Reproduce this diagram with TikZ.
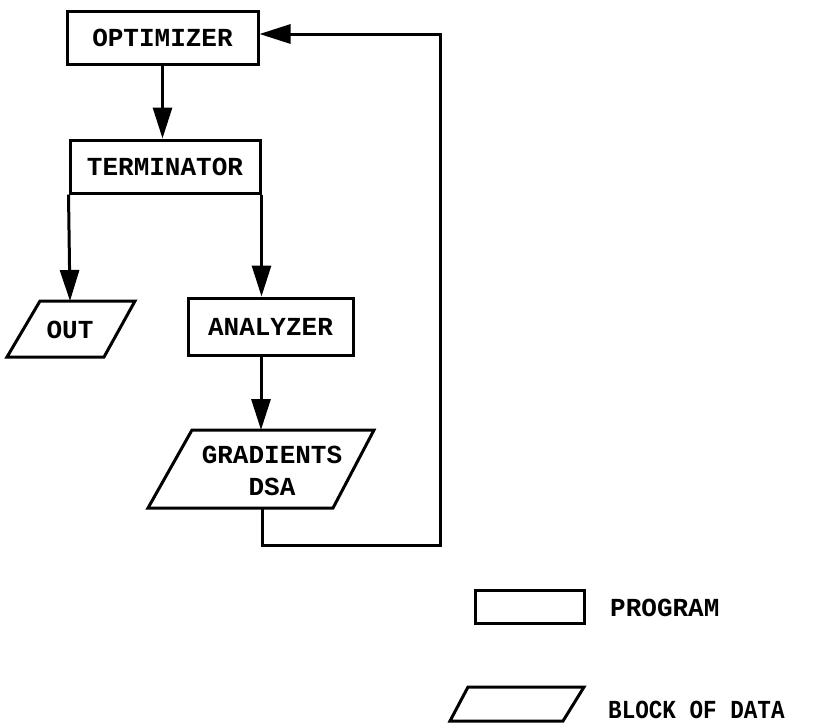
\documentclass[tikz,border=0pt]{standalone}
\usepackage{fontspec}
\newfontfamily\tw{Liberation Mono}
\usetikzlibrary{arrows.meta}
\tikzset{
  lbl/.style={font=\tw\bfseries\fontsize{26}{30}\selectfont, inner sep=0pt},
  prog/.style={draw, line width=3pt, rectangle, lbl},
  shp/.style={draw, line width=3pt, line join=miter},
  conn/.style={line width=3pt, -{Triangle[length=31pt,width=19pt]}},
}
\begin{document}
\begin{tikzpicture}[x=1pt,y=-1pt]
\useasboundingbox (0,0) rectangle (825,724);
% programs
\node[prog, minimum width=191pt, minimum height=53pt] (opt) at (162.5,37.5) {OPTIMIZER};
\node[prog, minimum width=190pt, minimum height=53pt] (term) at (165,166.5) {TERMINATOR};
\node[prog, minimum width=165pt, minimum height=57pt] (ana) at (270.5,326.5) {ANALYZER};
% data blocks
\draw[shp] (40,301) -- (135,301) -- (104,357) -- (7,357) -- cycle;
\node[lbl] (out) at (70,330) {OUT};
\coordinate (outtop) at (70,301);
\draw[shp] (192,430) -- (374,430) -- (333,508) -- (148,508) -- cycle;
\node[lbl, align=center] (grad) at (272,471) {GRADIENTS\\[2pt]DSA};
\coordinate (gradtop) at (261,430);
\coordinate (gradbot) at (262,508);
% connectors
\draw[conn] (opt.south) -- (opt.south |- term.north);
\draw[conn] (term.south west) -- (outtop);
\draw[conn] (term.south east) -- (term.south east |- ana.north);
\draw[conn] (gradtop |- ana.south) -- (gradtop);
\coordinate (c1) at (262,545);
\coordinate (c2) at (440,545);
\coordinate (c3) at (440,34);
\draw[conn] (gradbot) -- (c1) -- (c2) -- (c3) -- (c3 -| opt.east);
% legend
\node[prog, minimum width=109pt, minimum height=33pt] (lprog) at (529.5,606.5) {};
\node[lbl, anchor=west] (lprogt) at (610,608) {PROGRAM};
\draw[shp] (468,687) -- (584,687) -- (563,721) -- (450,721) -- cycle;
\node[lbl, anchor=west] (ldata) at (608,710) {\scalebox{0.87}[1]{BLOCK OF DATA}};
\end{tikzpicture}
\end{document}
